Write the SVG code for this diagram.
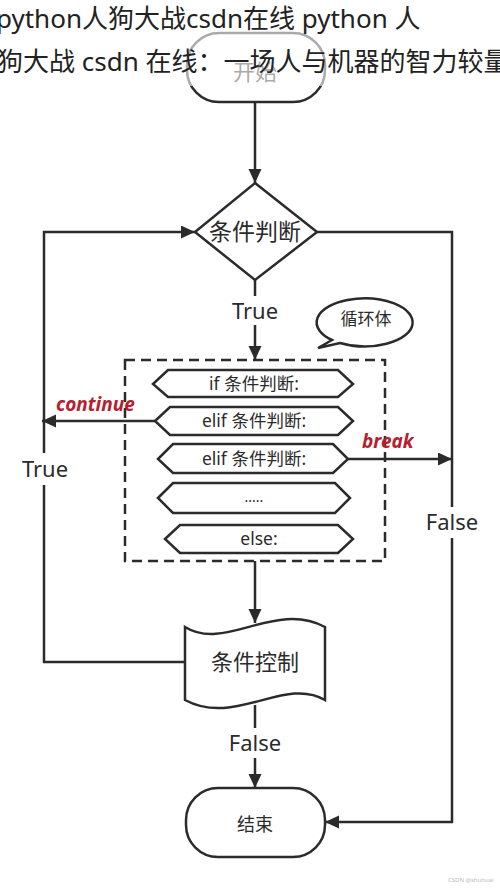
<svg xmlns="http://www.w3.org/2000/svg" width="500" height="892" viewBox="0 0 500 892">
<defs>
<marker id="arr" markerUnits="userSpaceOnUse" markerWidth="16" markerHeight="14" refX="14" refY="6.5" orient="auto">
<path d="M0,0 L14,6.5 L0,13 Z" fill="#2b2b2b"/>
</marker>
<style>
.ln{fill:none;stroke:#2b2b2b;stroke-width:2.5}
.sh{fill:#fff;stroke:#2b2b2b;stroke-width:2.5}
.t{font-family:"Noto Sans","Noto Sans CJK SC",sans-serif;fill:#2b2b2b;text-anchor:middle}
.h{font-size:17.5px}
.red{font-family:"Noto Sans","Noto Sans CJK SC",sans-serif;fill:#b5202e;font-weight:bold;font-style:italic;font-size:19px}
</style>
</defs>
<rect width="500" height="892" fill="#fff"/>
<g id="connectors">
<path class="ln" d="M255,102 V183" marker-end="url(#arr)"/>
<path class="ln" d="M255,280 V296 M255,325 V360" marker-end="url(#arr)"/>
<path class="ln" d="M317,232 H452 V507 M452,538 V822 H325" marker-end="url(#arr)"/>
<path class="ln" d="M185,662 H44 V485 M44,453 V232 H195" marker-end="url(#arr)"/>
<path class="ln" d="M155,421 H42" marker-end="url(#arr)"/>
<path class="ln" d="M348,459 H452" marker-end="url(#arr)"/>
<path class="ln" d="M255,561 V623" marker-end="url(#arr)"/>
<path class="ln" d="M255,705 V728 M255,758 V788" marker-end="url(#arr)"/>
</g>
<g id="start">
<rect class="sh" x="187" y="33" width="138" height="69" rx="32"/>
<text class="t" x="255" y="80" font-size="22">开始</text>
</g>
<g id="decision">
<polygon class="sh" points="255,183 317,232 255,280 195,232"/>
<text class="t" x="255" y="240" font-size="23">条件判断</text>
</g>
<g id="bubble">
<path class="sh" d="M332,340 L318,348 L340,343 A48,24 0 1 0 332,340 Z"/>
<text class="t" x="366" y="325" font-size="17">循环体</text>
</g>
<g id="loopbody">
<rect x="125" y="360" width="260" height="201" fill="none" stroke="#2b2b2b" stroke-width="2.5" stroke-dasharray="10,6"/>
</g>
<g id="if1">
<polygon class="sh" points="153,384 168,370 338,370 353,384 338,397 168,397"/>
<text class="t h" x="254" y="390">if 条件判断:</text>
</g>
<g id="elif1">
<polygon class="sh" points="155,421 170,407 338,407 353,421 338,435 170,435"/>
<text class="t h" x="254" y="427">elif 条件判断:</text>
</g>
<g id="elif2">
<polygon class="sh" points="158,459 173,444 333,444 348,459 333,473 173,473"/>
<text class="t h" x="254" y="465">elif 条件判断:</text>
</g>
<g id="dots">
<polygon class="sh" points="158,498 173,483 335,483 350,498 335,513 173,513"/>
<text class="t" x="254" y="502" font-size="14">.....</text>
</g>
<g id="else">
<polygon class="sh" points="165,539 180,525 338,525 353,539 338,553 180,553"/>
<text class="t h" x="259" y="545">else:</text>
</g>
<g id="control">
<path class="sh" d="M185,627 C225,652 275,600 325,627 V700 C285,676 235,727 185,700 Z"/>
<text class="t" x="255" y="670" font-size="22">条件控制</text>
</g>
<g id="end">
<rect class="sh" x="186" y="788" width="139" height="69" rx="32"/>
<text class="t" x="255" y="831" font-size="18">结束</text>
</g>
<g id="labels">
<text class="t" x="255" y="319" font-size="22">True</text>
<text class="t" x="45" y="477" font-size="22">True</text>
<text class="t" x="452" y="530" font-size="22">False</text>
<text class="t" x="255" y="751" font-size="22">False</text>
<text class="red" x="56" y="411">continue</text>
<text class="red" x="362" y="448">break</text>
</g>
<rect x="0" y="0" width="500" height="86" fill="#fff" opacity="0.6"/>
<g id="title" font-family="'Noto Sans','Noto Sans CJK SC',sans-serif" font-size="26" fill="#222">
<text x="-4" y="28">python人狗大战csdn在线 python 人</text>
<text x="-3" y="71">狗大战 csdn 在线：一场人与机器的智力较量</text>
</g>
<text x="448" y="882" font-family="'Noto Sans',sans-serif" font-size="6" fill="#bbb">CSDN @shuhuai</text>
</svg>
